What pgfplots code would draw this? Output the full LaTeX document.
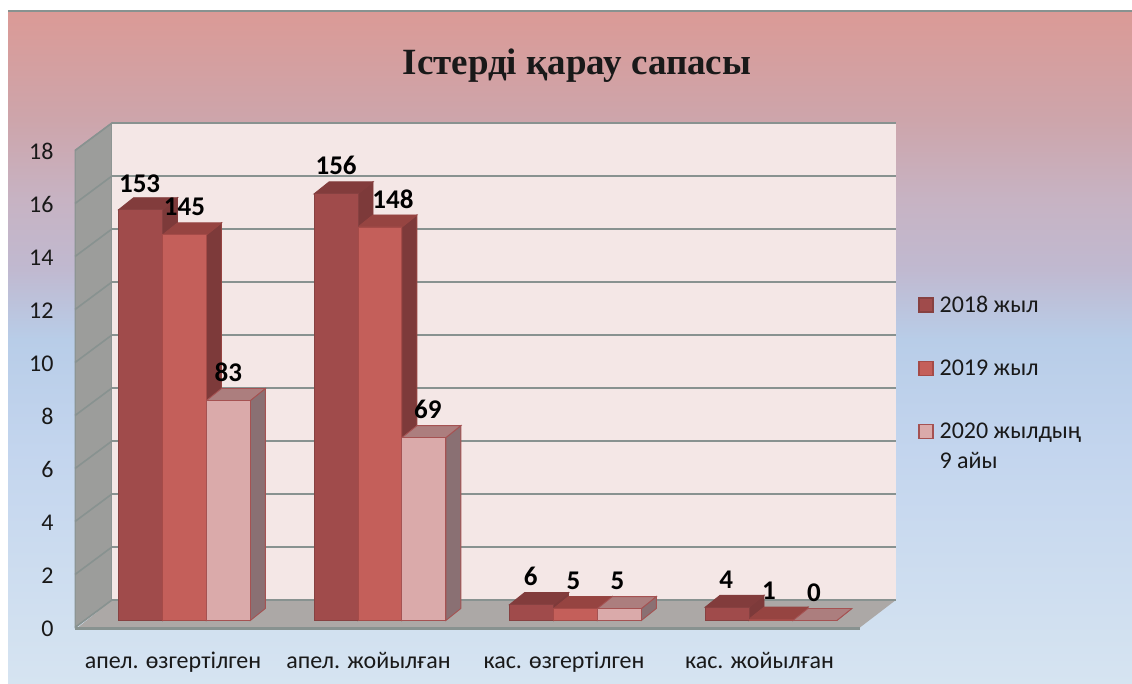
\documentclass[border=0pt]{standalone}
\usepackage{pgfplots}
\pgfplotsset{compat=1.18}
\usepackage{fontspec}
\setmainfont{Carlito}
\newfontfamily\titlefont{Liberation Serif}
\definecolor{wallL}{RGB}{156,157,155}
\definecolor{wallB}{RGB}{244,231,230}
\definecolor{floorc}{RGB}{172,168,166}
\definecolor{gridc}{RGB}{136,146,144}
\definecolor{fA}{RGB}{160,75,75}
\definecolor{fB}{RGB}{196,95,90}
\definecolor{fC}{RGB}{218,170,170}
\definecolor{tA}{RGB}{130,60,60}
\definecolor{tB}{RGB}{150,68,65}
\definecolor{tC}{RGB}{172,126,126}
\definecolor{sA}{RGB}{125,58,58}
\definecolor{sB}{RGB}{125,58,58}
\definecolor{sC}{RGB}{138,112,115}
\definecolor{eA}{RGB}{135,65,65}
\definecolor{eB}{RGB}{165,75,72}
\definecolor{eC}{RGB}{165,82,82}
\pgfdeclareverticalshading{bgshade}{1124pt}{
 rgb(0pt)=(0.839,0.894,0.945);
 rgb(234pt)=(0.765,0.835,0.933);
 rgb(344pt)=(0.722,0.804,0.91);
 rgb(414pt)=(0.753,0.725,0.816);
 rgb(484pt)=(0.78,0.702,0.765);
 rgb(564pt)=(0.804,0.647,0.671);
 rgb(673pt)=(0.859,0.604,0.588)}
% depth faces of one bar: left edge, height, top colour, side colour, edge colour
\newcommand\Depth[5]{%
 \pgfmathsetmacro\xl{#1}%
 \pgfmathsetmacro\xr{#1+0.2245}%
 \pgfmathsetmacro\xlb{#1+0.0767}%
 \pgfmathsetmacro\xrb{#1+0.2245+0.0767}%
 \pgfmathsetmacro\vt{#2}%
 \pgfmathsetmacro\vb{#2+0.453}%
 \edef\temp{\noexpand\addplot[forget plot,fill=#4,draw=#5,line width=0.9pt] coordinates {(\xr,0) (\xrb,0.453) (\xrb,\vb) (\xr,\vt)} -- cycle;
 \noexpand\addplot[forget plot,fill=#3,draw=#5,line width=0.9pt] coordinates {(\xl,\vt) (\xlb,\vb) (\xrb,\vb) (\xr,\vt)} -- cycle;}%
 \temp}
\newcommand\Lab[4]{%
 \addplot[forget plot,draw=none,mark=none,nodes near coords,point meta=explicit symbolic,
  nodes near coords style={anchor=center,yshift=28pt,xshift=#4,font=\fontsize{27}{30}\selectfont\bfseries,text=black}]
  coordinates {(#1,#2)[#3]};}
\begin{document}
\begin{tikzpicture}[x=1pt,y=1pt]
\path[use as bounding box] (0,0) rectangle (1132,684);
\fill[white] (0,0) rectangle (1132,684);
\node[inner sep=0pt,anchor=south west] at (8,0) {\pgfuseshading{bgshade}};
\begin{axis}[
 at={(0pt,0pt)},anchor=south west,
 scale only axis,width=1132pt,height=684pt,
 xmin=-0.94373,xmax=4.84655,ymin=-2.39623,ymax=23.41509,
 clip=false,
 axis x line*=bottom,axis y line*=left,
 axis line style={draw=none},
 tick style={draw=none},
 xtick={0,1,2,3},
 xticklabels={апел. өзгертілген,апел. жойылған,кас. өзгертілген,кас. жойылған},
 ytick={0,2,4,6,8,10,12,14,16,18},
 /pgf/number format/assume math mode=true,
 xticklabel style={anchor=base,xshift=-11.5pt,yshift=15pt,font=\fontsize{24}{26}\selectfont,text=black!90},
 yticklabel style={anchor=east,xshift=57pt,yshift=-8pt,font=\fontsize{24}{26}\selectfont,text=black!90},
 title={\titlefont\bfseries Істерді қарау сапасы},
 title style={at={(0.5097,0.8948)},anchor=center,font=\fontsize{37}{40}\selectfont,text=black!90},
 legend image code/.code={\draw[#1,line width=1.4pt] (0pt,-7pt) rectangle (14pt,7pt);},
 legend style={at={(0.811,0.5704)},anchor=north west,draw=none,fill=none,row sep=42pt,column sep=4pt,
   font=\fontsize{24}{27}\selectfont,text=black!90,inner sep=0pt},
 legend cell align=left,
]
% walls and floor
\addplot[forget plot,fill=wallL,draw=gridc,line width=1pt] coordinates {(-0.56,-0.264) (-0.371,0.774) (-0.371,18.774) (-0.56,17.736)} -- cycle;
\addplot[forget plot,fill=wallB,draw=none] coordinates {(-0.371,0.774) (3.639,0.774) (3.639,18.774) (-0.371,18.774)} -- cycle;
\addplot[forget plot,fill=floorc,draw=none] coordinates {(-0.545,-0.264) (-0.371,0.774) (3.639,0.774) (3.455,-0.264)} -- cycle;
\addplot[forget plot,draw=gridc,line width=2.4pt] coordinates {(-0.56,-0.30) (3.455,-0.30)};
\addplot[forget plot,draw=gridc,line width=1.6pt] coordinates {(-0.56,-0.264) (-0.371,0.774) (3.639,0.774)};
\addplot[forget plot,draw=gridc,line width=1.6pt] coordinates {(-0.56,1.736) (-0.371,2.774) (3.639,2.774)};
\addplot[forget plot,draw=gridc,line width=1.6pt] coordinates {(-0.56,3.736) (-0.371,4.774) (3.639,4.774)};
\addplot[forget plot,draw=gridc,line width=1.6pt] coordinates {(-0.56,5.736) (-0.371,6.774) (3.639,6.774)};
\addplot[forget plot,draw=gridc,line width=1.6pt] coordinates {(-0.56,7.736) (-0.371,8.774) (3.639,8.774)};
\addplot[forget plot,draw=gridc,line width=1.6pt] coordinates {(-0.56,9.736) (-0.371,10.774) (3.639,10.774)};
\addplot[forget plot,draw=gridc,line width=1.6pt] coordinates {(-0.56,11.736) (-0.371,12.774) (3.639,12.774)};
\addplot[forget plot,draw=gridc,line width=1.6pt] coordinates {(-0.56,13.736) (-0.371,14.774) (3.639,14.774)};
\addplot[forget plot,draw=gridc,line width=1.6pt] coordinates {(-0.56,15.736) (-0.371,16.774) (3.639,16.774)};
\addplot[forget plot,draw=gridc,line width=1.6pt] coordinates {(-0.56,17.736) (-0.371,18.774) (3.639,18.774)};
% depth faces, left to right
\Depth{-0.33675}{15.5}{tA}{sA}{tA}
\Depth{-0.11225}{14.55}{tB}{sB}{tB}
\Depth{0.11225}{8.3}{tC}{sC}{eC}
\Depth{0.66325}{16.1}{tA}{sA}{tA}
\Depth{0.88775}{14.85}{tB}{sB}{tB}
\Depth{1.11225}{6.9}{tC}{sC}{eC}
\Depth{1.66325}{0.6}{tA}{sA}{tA}
\Depth{1.88775}{0.45}{tB}{sB}{tB}
\Depth{2.11225}{0.45}{tC}{sC}{eC}
\Depth{2.66325}{0.5}{tA}{sA}{tA}
\Depth{2.88775}{0.05}{tB}{sB}{tB}
\Depth{3.11225}{0}{tC}{sC}{eC}
% front faces
\addplot[ybar,bar width=0.2245,bar shift=-0.2245,fill=fA,draw=eA,line width=0.9pt] coordinates {(0,15.5) (1,16.1) (2,0.6) (3,0.5)};
\addlegendentry{2018 жыл}
\addplot[ybar,bar width=0.2245,bar shift=0,fill=fB,draw=eB,line width=0.9pt] coordinates {(0,14.55) (1,14.85) (2,0.45) (3,0.05)};
\addlegendentry{2019 жыл}
\addplot[ybar,bar width=0.2245,bar shift=0.2245,fill=fC,draw=eC,line width=0.9pt] coordinates {(0,8.3) (1,6.9) (2,0.45) (3,0)};
\addlegendentry{\smash{\rlap{\raisebox{-30pt}{9 айы}}}2020 жылдың}
% value labels
\Lab{-0.2245}{15.5}{153}{-1pt,yshift=-2pt}
\Lab{0}{14.55}{145}{0pt}
\Lab{0.2245}{8.3}{83}{0pt}
\Lab{0.7755}{16.1}{156}{0pt}
\Lab{1}{14.85}{148}{13pt}
\Lab{1.2245}{6.9}{69}{4pt}
\Lab{1.7755}{0.6}{6}{-1pt}
\Lab{2}{0.45}{5}{-2pt}
\Lab{2.2245}{0.45}{5}{-2pt}
\Lab{2.7755}{0.5}{4}{-1pt}
\Lab{3}{0.05}{1}{-2pt}
\Lab{3.2245}{0}{0}{-1pt}
\end{axis}
\fill[gridc] (8,671.5) rectangle (1132,674);
\end{tikzpicture}
\end{document}
